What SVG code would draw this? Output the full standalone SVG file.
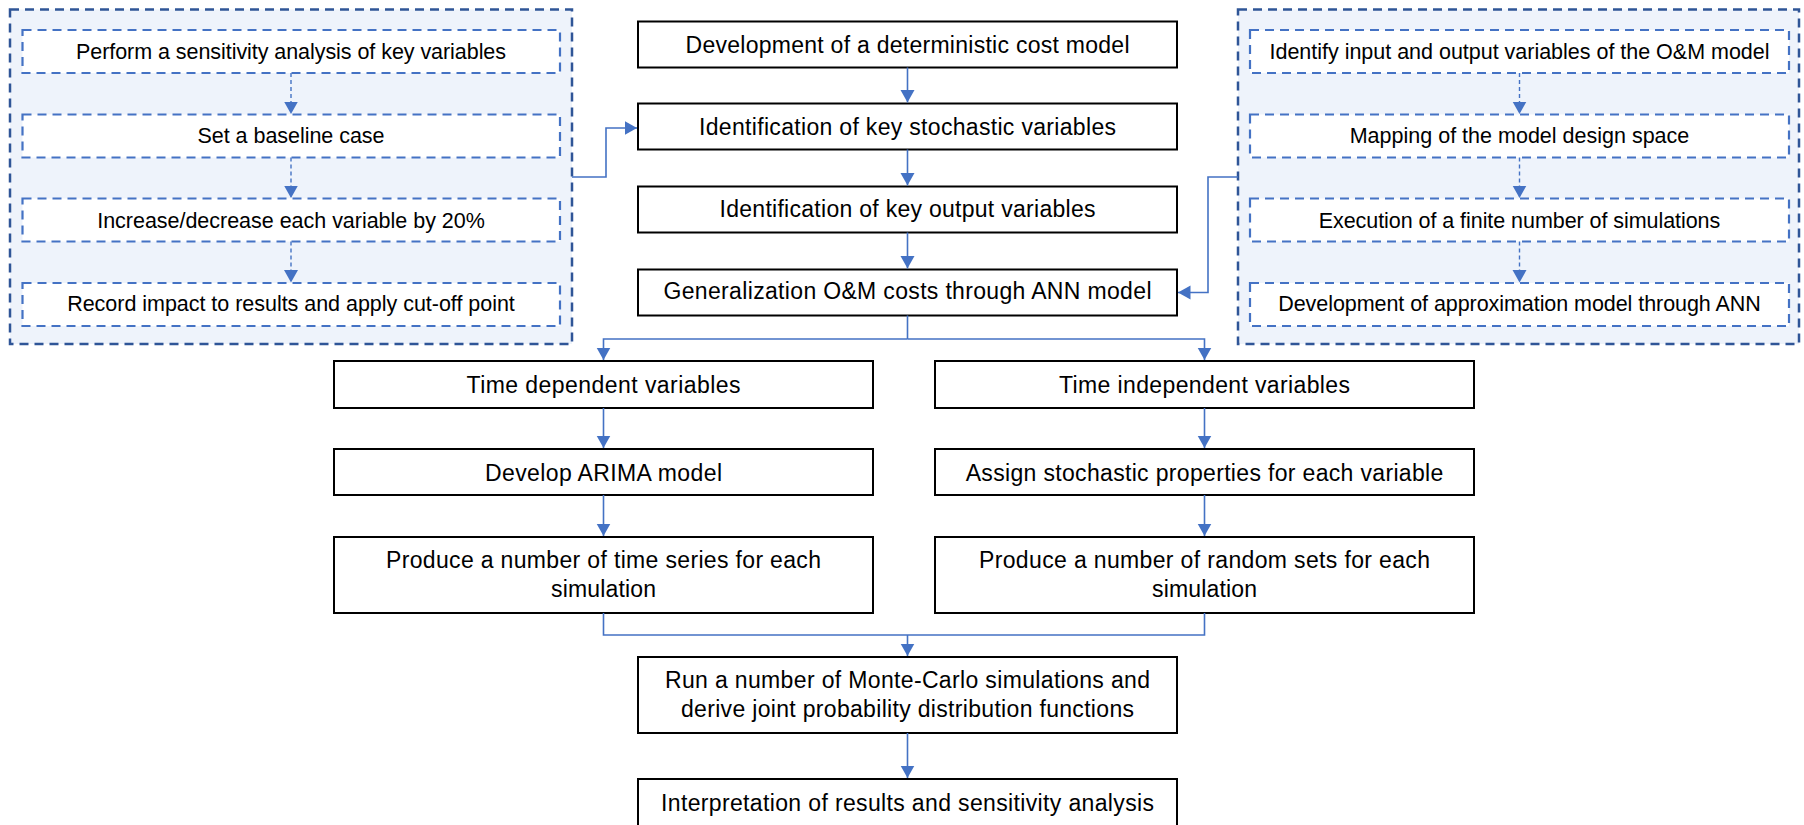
<svg xmlns="http://www.w3.org/2000/svg" width="1804" height="825" viewBox="0 0 1804 825">
  <style>
    .panel { fill: #EEF3FB; stroke: #2F5597; stroke-width: 2.5; stroke-dasharray: 9 6; }
    .sub { fill: #FFFFFF; stroke: #4472C4; stroke-width: 2.2; stroke-dasharray: 9 6; }
    .box { fill: #FFFFFF; stroke: #000000; stroke-width: 2; }
    .t { font-family: "Liberation Sans", Arial, sans-serif; font-size: 23px; fill: #000000; text-anchor: middle; }
    .ts { font-family: "Liberation Sans", Arial, sans-serif; font-size: 21.5px; fill: #000000; text-anchor: middle; }
    .link { fill: none; stroke: #4472C4; stroke-width: 1.6; }
    .dlink { fill: none; stroke: #4472C4; stroke-width: 1.4; stroke-dasharray: 4 3; }
  </style>
  <defs>
    <marker id="arrow" markerUnits="userSpaceOnUse" markerWidth="13" markerHeight="15" refX="12.5" refY="7" orient="auto">
      <path d="M0,0 L12.5,7 L0,14 z" fill="#4472C4"/>
    </marker>
  </defs>

  <!-- left panel: sensitivity analysis -->
  <g id="panel-sensitivity">
    <rect class="panel" x="10" y="9.5" width="562" height="334.5"/>
  </g>
  <g id="s1">
    <rect class="sub" x="22.5" y="30" width="537.5" height="43"/>
    <text class="ts" x="291" y="58.5" textLength="430">Perform a sensitivity analysis of key variables</text>
  </g>
  <g id="s2">
    <rect class="sub" x="22.5" y="114.5" width="537.5" height="43"/>
    <text class="ts" x="291" y="142.7" textLength="187">Set a baseline case</text>
  </g>
  <g id="s3">
    <rect class="sub" x="22.5" y="198.5" width="537.5" height="43"/>
    <text class="ts" x="291" y="227.7" textLength="387.6">Increase/decrease each variable by 20%</text>
  </g>
  <g id="s4">
    <rect class="sub" x="22.5" y="283" width="537.5" height="43"/>
    <text class="ts" x="291" y="310.7" textLength="447.6">Record impact to results and apply cut-off point</text>
  </g>

  <!-- right panel: ANN surrogate model -->
  <g id="panel-ann">
    <rect class="panel" x="1238" y="9.5" width="561" height="334.5"/>
  </g>
  <g id="a1">
    <rect class="sub" x="1250" y="30" width="539" height="43"/>
    <text class="ts" x="1519.5" y="58.5" textLength="500">Identify input and output variables of the O&amp;M model</text>
  </g>
  <g id="a2">
    <rect class="sub" x="1250" y="114.5" width="539" height="43"/>
    <text class="ts" x="1519.5" y="142.7" textLength="339.6">Mapping of the model design space</text>
  </g>
  <g id="a3">
    <rect class="sub" x="1250" y="198.5" width="539" height="43"/>
    <text class="ts" x="1519.5" y="227.7" textLength="401.5">Execution of a finite number of simulations</text>
  </g>
  <g id="a4">
    <rect class="sub" x="1250" y="283" width="539" height="43"/>
    <text class="ts" x="1519.5" y="310.7" textLength="482.5">Development of approximation model through ANN</text>
  </g>

  <!-- main column -->
  <g id="m1">
    <rect class="box" x="638" y="21.5" width="539" height="46"/>
    <text class="t" x="907.5" y="52.7" textLength="444">Development of a deterministic cost model</text>
  </g>
  <g id="m2">
    <rect class="box" x="638" y="103.5" width="539" height="46"/>
    <text class="t" x="907.5" y="135" textLength="417">Identification of key stochastic variables</text>
  </g>
  <g id="m3">
    <rect class="box" x="638" y="186.5" width="539" height="46"/>
    <text class="t" x="907.5" y="217.3" textLength="376">Identification of key output variables</text>
  </g>
  <g id="m4">
    <rect class="box" x="638" y="269.5" width="539" height="46"/>
    <text class="t" x="907.5" y="299.3" textLength="488">Generalization O&amp;M costs through ANN model</text>
  </g>

  <!-- time dependent branch -->
  <g id="td1">
    <rect class="box" x="334" y="361" width="539" height="47"/>
    <text class="t" x="603.5" y="392.7" textLength="274">Time dependent variables</text>
  </g>
  <g id="td2">
    <rect class="box" x="334" y="449" width="539" height="46"/>
    <text class="t" x="603.5" y="481" textLength="237">Develop ARIMA model</text>
  </g>
  <g id="td3">
    <rect class="box" x="334" y="537" width="539" height="76"/>
    <text class="t" x="603.5" y="568.3" textLength="435">Produce a number of time series for each</text>
    <text class="t" x="603.5" y="596.7" textLength="105">simulation</text>
  </g>

  <!-- time independent branch -->
  <g id="ti1">
    <rect class="box" x="935" y="361" width="539" height="47"/>
    <text class="t" x="1204.5" y="392.7" textLength="291">Time independent variables</text>
  </g>
  <g id="ti2">
    <rect class="box" x="935" y="449" width="539" height="46"/>
    <text class="t" x="1204.5" y="481" textLength="477.7">Assign stochastic properties for each variable</text>
  </g>
  <g id="ti3">
    <rect class="box" x="935" y="537" width="539" height="76"/>
    <text class="t" x="1204.5" y="568.3" textLength="451">Produce a number of random sets for each</text>
    <text class="t" x="1204.5" y="596.7" textLength="105">simulation</text>
  </g>

  <!-- simulation and interpretation -->
  <g id="mc">
    <rect class="box" x="638" y="657" width="539" height="76"/>
    <text class="t" x="907.5" y="688.3" textLength="485">Run a number of Monte-Carlo simulations and</text>
    <text class="t" x="907.5" y="716.7" textLength="453">derive joint probability distribution functions</text>
  </g>
  <g id="final">
    <rect class="box" x="638" y="779" width="539" height="60"/>
    <text class="t" x="907.5" y="811" textLength="493">Interpretation of results and sensitivity analysis</text>
  </g>

  <!-- connectors -->
  <g id="connectors">
    <!-- panel internal steps -->
    <path class="dlink" d="M291,73 V114" marker-end="url(#arrow)"/>
    <path class="dlink" d="M291,157.5 V198" marker-end="url(#arrow)"/>
    <path class="dlink" d="M291,241.5 V282.5" marker-end="url(#arrow)"/>
    <path class="dlink" d="M1519.5,73 V114" marker-end="url(#arrow)"/>
    <path class="dlink" d="M1519.5,157.5 V198" marker-end="url(#arrow)"/>
    <path class="dlink" d="M1519.5,241.5 V282.5" marker-end="url(#arrow)"/>

    <!-- panels into main column -->
    <path class="link" d="M572,177 H606 V128 H637" marker-end="url(#arrow)"/>
    <path class="link" d="M1238,177 H1208 V292.5 H1178" marker-end="url(#arrow)"/>

    <!-- main column -->
    <path class="link" d="M907.5,67.5 V102.5" marker-end="url(#arrow)"/>
    <path class="link" d="M907.5,149.5 V185.5" marker-end="url(#arrow)"/>
    <path class="link" d="M907.5,232.5 V268.5" marker-end="url(#arrow)"/>

    <!-- split into two branches -->
    <path class="link" d="M907.5,315.5 V339"/>
    <path class="link" d="M907.5,339 H603.5 V360" marker-end="url(#arrow)"/>
    <path class="link" d="M907.5,339 H1204.5 V360" marker-end="url(#arrow)"/>

    <!-- branch steps -->
    <path class="link" d="M603.5,408 V448" marker-end="url(#arrow)"/>
    <path class="link" d="M603.5,495 V536" marker-end="url(#arrow)"/>
    <path class="link" d="M1204.5,408 V448" marker-end="url(#arrow)"/>
    <path class="link" d="M1204.5,495 V536" marker-end="url(#arrow)"/>

    <!-- merge into simulations -->
    <path class="link" d="M603.5,613 V635 H1204.5 V613"/>
    <path class="link" d="M907.5,635 V656" marker-end="url(#arrow)"/>

    <path class="link" d="M907.5,733 V778" marker-end="url(#arrow)"/>
  </g>
</svg>
